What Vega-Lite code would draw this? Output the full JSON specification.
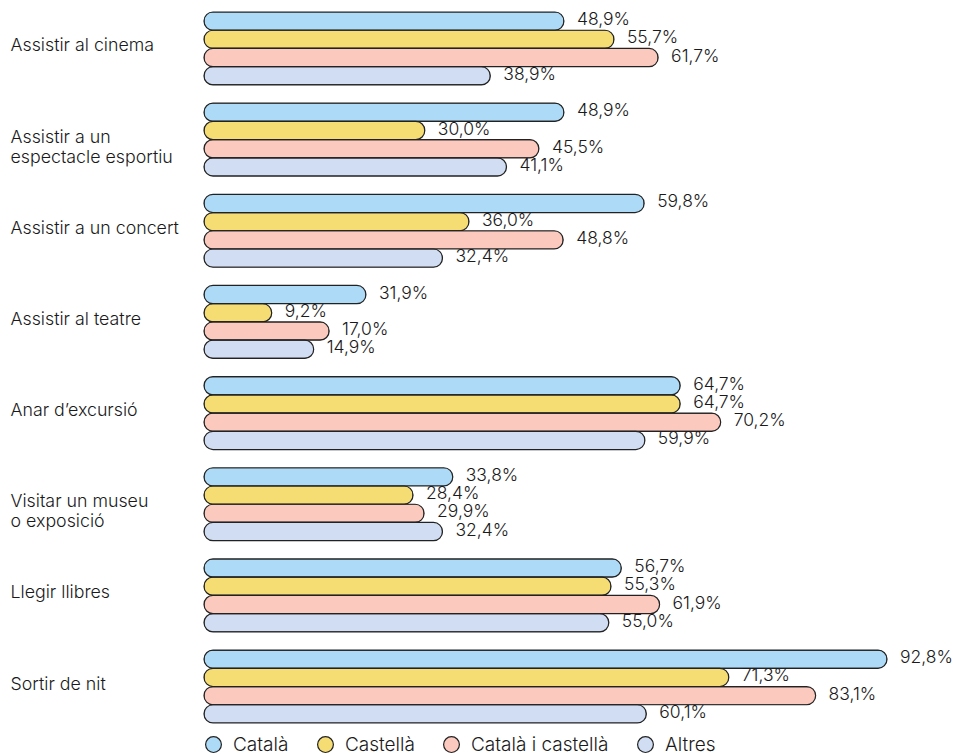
{
  "$schema": "https://vega.github.io/schema/vega-lite/v6.json",
  "width": 736,
  "height": 711,
  "autosize": {"type": "none"},
  "padding": {"left": 204, "top": 12, "right": 13, "bottom": 32},
  "background": "white",
  "config": {
    "view": {"stroke": null},
    "font": "Inter",
    "text": {"font": "Inter"}
  },
  "data": {
    "values": [
      {"act": "Assistir al cinema", "llengua": "Català", "v": 48.9, "pct": 48.9},
      {"act": "Assistir al cinema", "llengua": "Castellà", "v": 55.7, "pct": 55.7},
      {"act": "Assistir al cinema", "llengua": "Català i castellà", "v": 61.7, "pct": 61.7},
      {"act": "Assistir al cinema", "llengua": "Altres", "v": 38.9, "pct": 38.9},
      {"act": "Assistir a un|espectacle esportiu", "llengua": "Català", "v": 48.9, "pct": 48.9},
      {"act": "Assistir a un|espectacle esportiu", "llengua": "Castellà", "v": 30.0, "pct": 30.0},
      {"act": "Assistir a un|espectacle esportiu", "llengua": "Català i castellà", "v": 45.5, "pct": 45.5},
      {"act": "Assistir a un|espectacle esportiu", "llengua": "Altres", "v": 41.1, "pct": 41.1},
      {"act": "Assistir a un concert", "llengua": "Català", "v": 59.8, "pct": 59.8},
      {"act": "Assistir a un concert", "llengua": "Castellà", "v": 36.0, "pct": 36.0},
      {"act": "Assistir a un concert", "llengua": "Català i castellà", "v": 48.8, "pct": 48.8},
      {"act": "Assistir a un concert", "llengua": "Altres", "v": 32.4, "pct": 32.4},
      {"act": "Assistir al teatre", "llengua": "Català", "v": 22.0, "pct": 31.9},
      {"act": "Assistir al teatre", "llengua": "Castellà", "v": 9.2, "pct": 9.2},
      {"act": "Assistir al teatre", "llengua": "Català i castellà", "v": 17.0, "pct": 17.0},
      {"act": "Assistir al teatre", "llengua": "Altres", "v": 14.9, "pct": 14.9},
      {"act": "Anar d’excursió", "llengua": "Català", "v": 64.7, "pct": 64.7},
      {"act": "Anar d’excursió", "llengua": "Castellà", "v": 64.7, "pct": 64.7},
      {"act": "Anar d’excursió", "llengua": "Català i castellà", "v": 70.2, "pct": 70.2},
      {"act": "Anar d’excursió", "llengua": "Altres", "v": 59.9, "pct": 59.9},
      {"act": "Visitar un museu|o exposició", "llengua": "Català", "v": 33.8, "pct": 33.8},
      {"act": "Visitar un museu|o exposició", "llengua": "Castellà", "v": 28.4, "pct": 28.4},
      {"act": "Visitar un museu|o exposició", "llengua": "Català i castellà", "v": 29.9, "pct": 29.9},
      {"act": "Visitar un museu|o exposició", "llengua": "Altres", "v": 32.4, "pct": 32.4},
      {"act": "Llegir llibres", "llengua": "Català", "v": 56.7, "pct": 56.7},
      {"act": "Llegir llibres", "llengua": "Castellà", "v": 55.3, "pct": 55.3},
      {"act": "Llegir llibres", "llengua": "Català i castellà", "v": 61.9, "pct": 61.9},
      {"act": "Llegir llibres", "llengua": "Altres", "v": 55.0, "pct": 55.0},
      {"act": "Sortir de nit", "llengua": "Català", "v": 92.8, "pct": 92.8},
      {"act": "Sortir de nit", "llengua": "Castellà", "v": 71.3, "pct": 71.3},
      {"act": "Sortir de nit", "llengua": "Català i castellà", "v": 83.1, "pct": 83.1},
      {"act": "Sortir de nit", "llengua": "Altres", "v": 60.1, "pct": 60.1}
    ]
  },
  "transform": [
    {"calculate": "replace(format(datum.pct, '.1f'), '.', ',') + '%'", "as": "etiqueta"}
  ],
  "encoding": {
    "y": {
      "field": "act",
      "type": "nominal",
      "sort": null,
      "scale": {"paddingInner": 0.2, "paddingOuter": 0},
      "axis": {
        "title": null,
        "domain": false,
        "ticks": false,
        "labelAlign": "left",
        "labelBaseline": "alphabetic",
        "labelOffset": 3,
        "labelPadding": 194,
        "labelFont": "Inter",
        "labelFontSize": 17.8,
        "labelFontWeight": 300,
        "labelColor": "#1a1a1a",
        "labelLineHeight": 20,
        "labelExpr": "split(datum.label, '|')"
      }
    },
    "yOffset": {
      "field": "llengua",
      "type": "nominal",
      "sort": ["Català", "Castellà", "Català i castellà", "Altres"],
      "scale": {"paddingInner": 0, "paddingOuter": 0}
    },
    "x": {
      "field": "v",
      "type": "quantitative",
      "scale": {"domain": [0, 100]},
      "axis": null
    }
  },
  "layer": [
    {
      "mark": {"type": "bar", "cornerRadius": 9, "stroke": "#222222", "strokeWidth": 1.2},
      "encoding": {
        "color": {
          "field": "llengua",
          "type": "nominal",
          "sort": ["Català", "Castellà", "Català i castellà", "Altres"],
          "scale": {
            "domain": ["Català", "Castellà", "Català i castellà", "Altres"],
            "range": ["#acdaf7", "#f5dc73", "#fbc9bd", "#d0ddf2"]
          },
          "legend": {
            "title": null,
            "orient": "none",
            "direction": "horizontal",
            "legendX": 0,
            "legendY": 723,
            "symbolType": "circle",
            "symbolSize": 250,
            "symbolStrokeColor": "#222222",
            "symbolStrokeWidth": 1.2,
            "labelFont": "Inter",
            "labelFontSize": 19,
            "labelFontWeight": 300,
            "labelColor": "#1a1a1a",
            "labelOffset": 10,
            "columnPadding": 26
          }
        }
      }
    },
    {
      "mark": {"type": "text", "align": "left", "baseline": "alphabetic", "dx": 13, "dy": 4, "font": "Inter", "fontSize": 17.5, "fontWeight": 300, "color": "#1a1a1a"},
      "encoding": {
        "text": {"field": "etiqueta", "type": "nominal"}
      }
    }
  ]
}
